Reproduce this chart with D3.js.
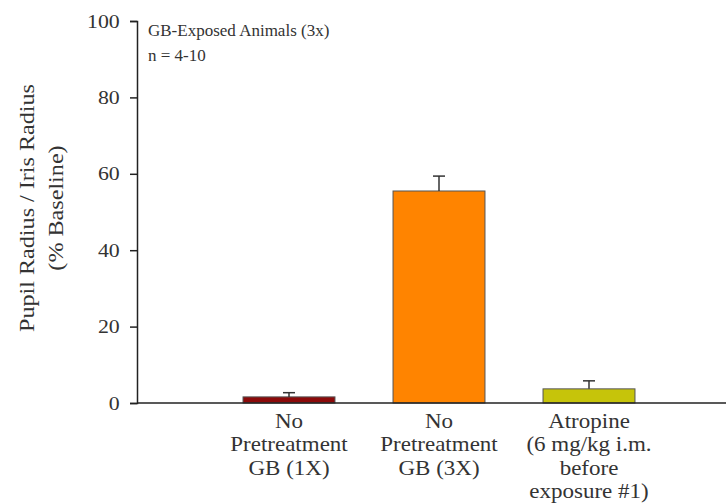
<!DOCTYPE html>
<html>
  <head>
    <script src="https://d3js.org/d3.v7.min.js" charset="utf-8"></script>
    <style type="text/css">
    body { margin: 0; background: #fff; }
    text { font-family: "Liberation Serif", "Times New Roman", serif; fill: #333; }
    </style>
  </head>
  <body>
  <script type="text/javascript">
  // data
  var categories = ["GB1X", "GB3X", "Atropine"];
  var labels = [
    ["No", "Pretreatment", "GB (1X)"],
    ["No", "Pretreatment", "GB (3X)"],
    ["Atropine", "(6 mg/kg i.m.", "before", "exposure #1)"]
  ];
  var means = [1.6, 55.5, 3.7];
  var errors = [1.1, 3.9, 2.1];
  var colors = ["#8b0a0a", "#ff8400", "#c6c40a"];
  var yTicks = [0, 20, 40, 60, 80, 100];

  var W = 726, H = 504;
  var stretch = 1.15;  // the original text is a bit wider than Liberation Serif
  var svg = d3.select("body").append("svg").attr("width", W).attr("height", H);

  var y = d3.scaleLinear().domain([0, 100]).range([403, 21]);
  var x = d3.scaleBand().domain(categories).range([214, 664])
    .paddingInner(0.387).paddingOuter(0.1935);
  function cx(i) { return x(categories[i]) + x.bandwidth() / 2; }

  // bars
  svg.selectAll("rect.bar").data(means).enter().append("rect")
    .attr("class", "bar")
    .attr("x", function(d, i) { return x(categories[i]); })
    .attr("y", function(d) { return y(d); })
    .attr("width", x.bandwidth())
    .attr("height", function(d) { return y(0) - y(d); })
    .attr("fill", function(d, i) { return colors[i]; })
    .attr("stroke", "#555")
    .attr("stroke-width", 1);

  // error bars (upper only)
  var err = svg.selectAll("g.err").data(means).enter().append("g").attr("class", "err");
  err.append("line")
    .attr("x1", function(d, i) { return cx(i); })
    .attr("x2", function(d, i) { return cx(i); })
    .attr("y1", function(d) { return y(d); })
    .attr("y2", function(d, i) { return y(d + errors[i]); })
    .attr("stroke", "#333").attr("stroke-width", 1.5);
  err.append("line")
    .attr("x1", function(d, i) { return cx(i) - 6; })
    .attr("x2", function(d, i) { return cx(i) + 6; })
    .attr("y1", function(d, i) { return y(d + errors[i]); })
    .attr("y2", function(d, i) { return y(d + errors[i]); })
    .attr("stroke", "#333").attr("stroke-width", 1.5);

  // y axis
  var yAxis = svg.append("g").attr("transform", "translate(137,0)")
    .call(d3.axisLeft(y).tickValues(yTicks).tickSize(7).tickPadding(8));
  yAxis.select(".domain").attr("stroke", "#222").attr("stroke-width", 1.5);
  yAxis.selectAll(".tick line").attr("stroke", "#222").attr("stroke-width", 1.5);
  yAxis.selectAll(".tick text").attr("font-size", 19)
    .attr("transform", "scale(" + stretch + ",1)")
    .style("font-family", "'Liberation Serif', serif").attr("fill", "#444");

  // x axis baseline
  svg.append("line").attr("x1", 137).attr("x2", W).attr("y1", y(0)).attr("y2", y(0))
    .attr("stroke", "#222").attr("stroke-width", 1.5);

  // category labels
  var xl = svg.selectAll("text.xl").data(labels).enter().append("text")
    .attr("class", "xl")
    .attr("text-anchor", "middle")
    .attr("font-size", 20)
    .attr("transform", function(d, i) { return "translate(" + cx(i) + ",428) scale(" + stretch + ",1)"; });
  xl.selectAll("tspan").data(function(d) { return d; }).enter().append("tspan")
    .attr("x", 0)
    .attr("dy", function(d, i) { return i === 0 ? 0 : 23.3; })
    .text(function(d) { return d; });

  // y title
  var yt = svg.append("text").attr("transform", "translate(34,208) rotate(-90) scale(" + stretch + ",1)")
    .attr("text-anchor", "middle").attr("font-size", 21);
  yt.append("tspan").attr("x", 0).attr("dy", 0).text("Pupil Radius / Iris Radius");
  yt.append("tspan").attr("x", 0).attr("dy", 29).text("(% Baseline)");

  // annotation
  svg.append("text").attr("x", 148).attr("y", 36).attr("font-size", 17)
    .text("GB-Exposed Animals (3x)");
  svg.append("text").attr("x", 148).attr("y", 61).attr("font-size", 17)
    .text("n = 4-10");
  </script>
  </body>
</html>
